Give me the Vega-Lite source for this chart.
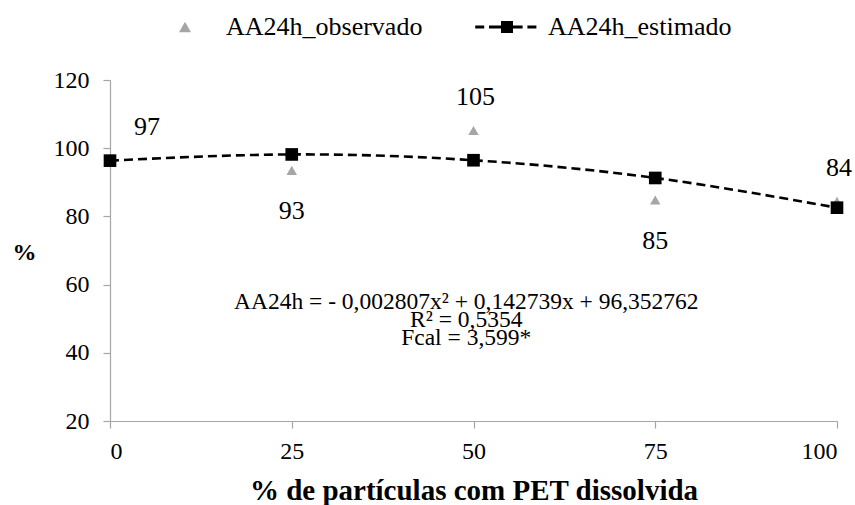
{
  "$schema": "https://vega.github.io/schema/vega-lite/v6.json",
  "width": 727,
  "height": 341,
  "autosize": {"type": "none"},
  "padding": {"left": 110, "top": 80, "right": 18, "bottom": 84},
  "background": "white",
  "config": {
    "font": "Liberation Serif",
    "view": {"stroke": null},
    "axis": {
      "grid": false,
      "domainColor": "#a6a6a6",
      "domainWidth": 1.2,
      "tickColor": "#a6a6a6",
      "tickWidth": 1.2,
      "tickSize": 7,
      "labelFont": "Liberation Serif",
      "labelColor": "black",
      "labelFontSize": 24,
      "titleFont": "Liberation Serif",
      "titleColor": "black",
      "titleFontWeight": "bold",
      "titleFontSize": 29
    },
    "legend": {
      "labelFont": "Liberation Serif"
    }
  },
  "data": {
    "values": [
      {"x": 0, "serie": "AA24h_observado", "y": 96.7, "rotulo": "97"},
      {"x": 25, "serie": "AA24h_observado", "y": 93.5, "rotulo": "93"},
      {"x": 50, "serie": "AA24h_observado", "y": 105.2, "rotulo": "105"},
      {"x": 75, "serie": "AA24h_observado", "y": 84.8, "rotulo": "85"},
      {"x": 100, "serie": "AA24h_observado", "y": 84.4, "rotulo": "84"},
      {"x": 0, "serie": "AA24h_estimado", "y": 96.35},
      {"x": 25, "serie": "AA24h_estimado", "y": 98.17},
      {"x": 50, "serie": "AA24h_estimado", "y": 96.47},
      {"x": 75, "serie": "AA24h_estimado", "y": 91.27},
      {"x": 100, "serie": "AA24h_estimado", "y": 82.55}
    ]
  },
  "encoding": {
    "x": {
      "field": "x",
      "type": "quantitative",
      "scale": {"domain": [0, 100], "nice": false},
      "axis": {
        "values": [0, 25, 50, 75, 100],
        "title": "% de partículas  com PET dissolvida",
        "labelPadding": 11,
        "titleBaseline": "alphabetic",
        "titleY": 78
      }
    },
    "y": {
      "field": "y",
      "type": "quantitative",
      "scale": {"domain": [20, 120], "nice": false},
      "axis": {
        "values": [20, 40, 60, 80, 100, 120],
        "title": "%",
        "titleFontSize": 24,
        "titleAngle": 0,
        "titleAlign": "center",
        "titleBaseline": "middle",
        "titleX": -86,
        "titleY": 172,
        "labelPadding": 14
      }
    }
  },
  "layer": [
    {
      "transform": [{"filter": "datum.serie === 'AA24h_observado'"}],
      "mark": {"type": "point", "filled": true, "size": 110, "opacity": 1},
      "encoding": {
        "shape": {
          "field": "serie",
          "type": "nominal",
          "scale": {
            "domain": ["AA24h_observado", "AA24h_estimado"],
            "range": ["triangle-up", "M-5.3,-0.25H-3.8V0.25H-5.3Z M-3.0,-0.25H-1V0.25H-3.0Z M-1,-1H1V1H-1Z M1,-0.25H2.6V0.25H1Z M3.4,-0.25H4.9V0.25H3.4Z"]
          },
          "legend": {
            "title": null,
            "orient": "none",
            "direction": "horizontal",
            "legendX": 62,
            "legendY": -66,
            "labelFontSize": 26,
            "labelColor": "black",
            "labelLimit": 0,
            "symbolSize": 144,
            "labelOffset": 28,
            "columnPadding": 52,
            "symbolStrokeWidth": 0
          }
        },
        "color": {
          "field": "serie",
          "type": "nominal",
          "scale": {
            "domain": ["AA24h_observado", "AA24h_estimado"],
            "range": ["#a6a6a6", "#000000"]
          },
          "legend": {
            "title": null,
            "orient": "none",
            "direction": "horizontal",
            "legendX": 62,
            "legendY": -66,
            "labelFontSize": 26,
            "labelColor": "black",
            "labelLimit": 0,
            "symbolSize": 144,
            "labelOffset": 28,
            "columnPadding": 52,
            "symbolStrokeWidth": 0
          }
        }
      }
    },
    {
      "transform": [{"filter": "datum.serie === 'AA24h_estimado'"}],
      "mark": {"type": "line", "interpolate": "natural", "color": "black", "strokeWidth": 2.6, "strokeDash": [9, 5]},
      "encoding": {}
    },
    {
      "transform": [{"filter": "datum.serie === 'AA24h_estimado'"}],
      "mark": {"type": "point", "shape": "square", "filled": true, "size": 160, "color": "black", "opacity": 1},
      "encoding": {}
    },
    {
      "transform": [{"filter": "datum.serie === 'AA24h_observado' && (datum.x === 50 || datum.x === 100)"}],
      "mark": {"type": "text", "fontSize": 26, "font": "Liberation Serif", "color": "black", "dy": -33, "dx": 2},
      "encoding": {"text": {"field": "rotulo"}}
    },
    {
      "transform": [{"filter": "datum.serie === 'AA24h_observado' && (datum.x === 25 || datum.x === 75)"}],
      "mark": {"type": "text", "fontSize": 26, "font": "Liberation Serif", "color": "black", "dy": 41},
      "encoding": {"text": {"field": "rotulo"}}
    },
    {
      "transform": [{"filter": "datum.serie === 'AA24h_observado' && datum.x === 0"}],
      "mark": {"type": "text", "fontSize": 26, "font": "Liberation Serif", "color": "black", "dy": -32, "dx": 37},
      "encoding": {"text": {"field": "rotulo"}}
    },
    {
      "transform": [{"filter": "datum.serie === 'AA24h_estimado' && datum.x === 0"}],
      "mark": {"type": "text", "fontSize": 23.5, "font": "Liberation Serif", "color": "black", "align": "center", "baseline": "middle", "lineHeight": 18},
      "encoding": {
        "x": {"datum": 49},
        "y": {"datum": 55},
        "text": {"value": ["AA24h = - 0,002807x² + 0,142739x  + 96,352762", "R² = 0,5354", "Fcal = 3,599*"]}
      }
    }
  ]
}
